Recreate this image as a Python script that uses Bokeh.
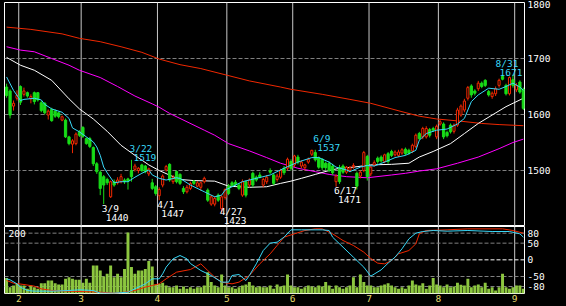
from bokeh.plotting import figure
from bokeh.layouts import column
from bokeh.models import Range1d, FixedTicker, Span, Label, ColumnDataSource
from bokeh.embed import file_html
from bokeh.resources import INLINE

# ---------------- data (trading-day index 0 = 2022-01-26) ----------------
month_starts = [4, 22, 44, 64, 83, 105, 125, 147]
month_labels = ["2", "3", "4", "5", "6", "7", "8", "9"]
price_ticks = [1500, 1600, 1700, 1800]
price_grid = [1500, 1600, 1700]
osc_ticks = [80, 50, 0, -50, -80]
osc_labels = ["80", "50", "0", "-50", "-80"]

opens = [1649,1642,1615,1629,1650,1636,1639,1628,1639,1639,1621,1620,1599,1609,1606,1603,1590,1590,1560,1547,
         1548,1569,1577,1557,1557,1541,1512,1497,1489,1484,1453,1480,1478,1480,1483,1485,1500,1502,1500,1510,
         1508,1494,1478,1471,1455,1474,1501,1511,1480,1498,1493,1468,1462,1468,1481,1472,1470,1480,1465,1440,
         1440,1456,1432,1452,1472,1478,1479,1474,1456,1480,1474,1495,1488,1492,1474,1480,1500,1492,1484,1488,
         1504,1504,1516,1510,1524,1508,1505,1515,1529,1532,1523,1520,1513,1513,1508,1480,1505,1508,1497,1500,
         1507,1495,1490,1500,1525,1494,1510,1522,1524,1516,1530,1534,1528,1527,1531,1538,1536,1535,1543,1566,
         1560,1560,1573,1575,1560,1583,1583,1568,1581,1570,1581,1599,1608,1629,1651,1642,1646,1656,1661,1641,
         1632,1637,1652,1668,1652,1637,1662,1644,1658,1645]
highs = [1655,1645,1625,1643,1652,1648,1641,1636,1641,1640,1624,1622,1609,1612,1609,1605,1598,1593,1562,1556,
         1568,1572,1579,1559,1560,1543,1515,1500,1492,1487,1482,1484,1488,1494,1486,1487,1519,1512,1506,1512,
         1510,1505,1485,1474,1470,1493,1510,1513,1492,1500,1495,1472,1474,1480,1483,1481,1480,1489,1468,1456,
         1454,1459,1456,1468,1476,1481,1483,1477,1484,1482,1486,1498,1491,1497,1487,1492,1504,1494,1494,1503,
         1508,1523,1520,1528,1528,1518,1512,1523,1537,1537,1525,1522,1516,1516,1512,1493,1510,1511,1508,1508,
         1513,1498,1500,1535,1528,1509,1518,1525,1527,1530,1533,1537,1536,1537,1540,1541,1539,1548,1566,1569,
         1578,1579,1576,1578,1582,1590,1586,1571,1584,1584,1612,1618,1628,1651,1654,1645,1660,1659,1663,1644,
         1641,1650,1664,1670,1655,1668,1671,1656,1661,1648]
lows = [1630,1593,1607,1625,1617,1632,1630,1620,1618,1623,1604,1600,1591,1587,1594,1593,1588,1558,1545,1531,
        1545,1560,1558,1546,1540,1508,1494,1456,1440,1474,1451,1471,1475,1477,1476,1466,1480,1498,1495,1497,
        1495,1490,1465,1455,1447,1470,1498,1480,1476,1477,1474,1458,1459,1465,1474,1470,1464,1477,1444,1437,
        1436,1444,1423,1448,1456,1470,1472,1465,1453,1452,1470,1470,1480,1486,1470,1476,1494,1474,1480,1485,
        1492,1500,1500,1506,1511,1504,1500,1512,1526,1516,1503,1501,1501,1497,1492,1471,1476,1494,1494,1497,
        1503,1466,1486,1497,1482,1490,1507,1512,1514,1513,1512,1524,1525,1524,1528,1527,1528,1531,1540,1554,
        1556,1557,1559,1569,1556,1580,1556,1559,1566,1566,1578,1596,1604,1625,1630,1634,1642,1647,1649,1632,
        1628,1633,1648,1661,1634,1634,1648,1640,1637,1608]
closes = [1634,1599,1620,1634,1622,1642,1633,1632,1623,1626,1607,1603,1606,1589,1597,1596,1596,1560,1548,1553,
          1565,1563,1561,1548,1543,1512,1498,1468,1474,1478,1480,1474,1483,1489,1480,1481,1489,1508,1504,1500,
          1498,1503,1468,1459,1466,1490,1507,1483,1487,1480,1477,1462,1470,1477,1477,1478,1478,1486,1447,1453,
          1450,1447,1453,1466,1459,1473,1475,1468,1480,1456,1483,1474,1483,1488,1484,1488,1497,1477,1490,1500,
          1496,1520,1504,1526,1515,1515,1510,1520,1536,1519,1506,1505,1505,1500,1496,1490,1480,1497,1506,1505,
          1509,1472,1497,1532,1489,1506,1514,1516,1517,1528,1516,1527,1533,1533,1537,1530,1531,1545,1563,1557,
          1575,1575,1563,1572,1579,1587,1560,1562,1569,1581,1608,1615,1624,1648,1635,1638,1656,1650,1652,1635,
          1638,1646,1661,1663,1637,1666,1652,1652,1640,1611]
volume = [52,21,27,32,27,27,16,27,21,16, 34,34,43,43,34,30,30,49,54,49,
          46,46,36,49,36,93,93,77,57,66, 93,54,66,54,82,203,88,66,77,77,
          82,108,90,30,32,36,27,21,21,27, 16,23,16,21,16,21,21,27,71,38,
          27,21,63,27,21,21,16,21,27,30, 38,27,21,23,21,21,27,16,30,23,
          27,63,27,21,21,16,21,27,23,21, 27,23,38,27,16,27,21,16,21,27,
          54,21,63,38,27,27,21,21,27,30, 34,27,21,16,21,16,27,43,30,27,
          34,16,27,52,30,27,21,30,21,23, 36,29,27,49,21,27,30,21,36,16,
          21,10,21,66,21,16,21,27,27,16]

ma5_day = [0,2,4,5,8,10,11,13,16,18,19,21,23,25,26,27,28,29,31,33,35,37,39,41,42,44,46,49,50,53,
           57,60,62,63,65,68,72,76,80,84,88,90,93,95,98,99,102,104,106,109,112,115,118,119,121,124,127,130,132,134,
           136,139,142,144,146,148,149]
ma5_val = [1667,1643,1625,1627,1629,1626,1618,1610,1604,1593,1576,1569,1560,1551,1542,1527,1506,1496,1478,1480,
           1480,1488,1495,1501,1492,1486,1483,1487,1486,1474,1462,1453,1456,1465,1471,1480,1486,1492,1504,1515,
           1523,1523,1515,1506,1501,1498,1506,1509,1508,1515,1523,1527,1536,1554,1566,1572,1574,1583,1593,1623,
           1635,1647,1645,1650,1656,1649,1643]
ma25_day = [0,4,8,13,18,21,25,29,33,37,41,44,48,50,54,60,64,70,75,79,82,85,89,93,96,100,105,111,116,119,
            123,128,132,136,140,144,149]
ma25_val = [1702,1688,1679,1661,1628,1610,1592,1570,1545,1527,1510,1500,1489,1484,1482,1481,1472,1470,1471,1477,
            1481,1486,1493,1500,1504,1506,1510,1511,1513,1524,1534,1548,1566,1584,1599,1614,1629]
ma75_day = [0,4,8,13,18,21,27,32,37,42,44,47,50,57,60,64,70,75,79,84,89,93,98,104,111,115,119,124,130,136,
            142,146,149]
ma75_val = [1721,1715,1712,1700,1688,1679,1666,1650,1633,1619,1613,1602,1593,1572,1563,1548,1535,1523,1513,1504,
            1498,1493,1489,1487,1492,1495,1499,1503,1513,1524,1539,1550,1556]
ma200_day = [0,7,16,21,27,33,39,44,50,56,63,70,79,82,91,99,105,114,119,124,131,137,142,149]
ma200_val = [1756,1752,1744,1736,1730,1721,1711,1699,1689,1682,1671,1660,1649,1645,1636,1627,1620,1605,1597,1592,
             1588,1584,1582,1580]

rci_fast_day = [0,1,3,4,6,8,13,18,21,25,27,31,35,37,40,42,44,45,46,48,50,52,53,56,59,62,64,65,67,69,
                70,72,74,76,78,80,82,85,91,93,94,97,100,103,105,108,110,112,114,116,118,120,123,127,133,140,145,148,149]
rci_fast_val = [-57,-60,-72,-82,-92,-94,-94,-92,-90,-92,-100,-100,-97,-87,-72,-57,-57,-42,-22,3,
                13,3,-11,-32,-47,-67,-67,-47,-44,-62,-47,-12,28,50,53,68,90,90,90,88,
                68,38,8,-22,-49,-30,-10,8,33,63,80,85,88,86,88,85,85,78,68]
rci_slow_day = [0,2,5,8,10,13,18,27,31,34,37,40,42,44,46,49,53,56,58,60,62,65,67,70,73,76,78,80,83,86,
                89,91,94,97,100,103,105,107,109,111,113,116,118,119,121,127,133,143,146,149]
rci_slow_val = [-62,-70,-74,-79,-87,-92,-94,-97,-100,-97,-92,-82,-77,-72,-57,-37,-29,-12,-32,-52,
                -67,-72,-67,-47,-12,18,43,68,78,88,93,93,78,58,43,23,4,-10,-12,-2,
                18,28,48,78,88,90,93,93,88,80]

ann_day = [28, 36, 44, 62, 89, 95, 146]
ann_date = ["3/9", "3/22", "4/1", "4/27", "6/9", "6/17", "8/31"]
ann_price = [1440, 1519, 1447, 1423, 1537, 1471, 1671]
ann_high = [False, True, False, False, True, False, True]

# ---------------- style ----------------
FONT = "DejaVu Sans Mono"
FS = "9.5px"
RED = "#F02800"
GREEN = "#18DC18"
VOLC = "#8CC63F"
CYAN = "#38D8F8"
MAG = "#FF00FF"
GRIDC = "#808080"
VLINE = "#C8C8C8"
YEL = "#E6DC6E"

X0, X1 = -0.106, 149.83
Y0, Y1 = 1400, 1800
FRAME_W, FRAME_H = 520, 224
xr = Range1d(X0, X1)

def style_right_axis(ax):
    ax.major_label_text_color = "white"
    ax.major_label_text_font = FONT
    ax.major_label_text_font_size = FS
    ax.axis_line_color = None
    ax.major_tick_line_color = None
    ax.minor_tick_line_color = None
    ax.major_tick_out = 0
    ax.major_tick_in = 0
    ax.major_label_standoff = 3

# ---------------- main price panel ----------------
p1 = figure(width=566, height=226, x_range=xr, y_range=Range1d(Y0, Y1),
            output_backend="svg", toolbar_location=None,
            x_axis_location=None, y_axis_location="right",
            min_border_left=4, min_border_right=42, min_border_top=2, min_border_bottom=0,
            background_fill_color="black", border_fill_color="black",
            outline_line_color="white", outline_line_width=1)
p1.grid.visible = False
style_right_axis(p1.yaxis[0])
p1.yaxis.ticker = FixedTicker(ticks=price_ticks)

for m in month_starts:
    p1.add_layout(Span(location=m, dimension="height", line_color=VLINE, line_width=1, level="underlay"))
for g in price_grid:
    p1.add_layout(Span(location=g, dimension="width", line_color=GRIDC, line_width=1,
                       line_dash="4 2", level="underlay"))

n = len(opens)
up = dict(x=[], h=[], l=[], top=[], bot=[])
dn = dict(x=[], h=[], l=[], top=[], bot=[])
for i in range(n):
    d = up if closes[i] >= opens[i] else dn
    d["x"].append(i + 0.5)
    d["h"].append(highs[i])
    d["l"].append(lows[i])
    d["top"].append(max(opens[i], closes[i]))
    d["bot"].append(min(opens[i], closes[i]))
sup = ColumnDataSource(up)
sdn = ColumnDataSource(dn)

p1.line([d + 0.5 for d in ma200_day], ma200_val, line_color=RED, line_width=1)
p1.line([d + 0.5 for d in ma75_day], ma75_val, line_color=MAG, line_width=1)
p1.line([d + 0.5 for d in ma25_day], ma25_val, line_color="white", line_width=1)

p1.segment(x0="x", y0="l", x1="x", y1="h", source=sup, line_color=RED, line_width=1)
p1.segment(x0="x", y0="l", x1="x", y1="h", source=sdn, line_color=GREEN, line_width=1)
p1.vbar(x="x", width=0.6, top="top", bottom="bot", source=sup,
        fill_color="black", line_color=RED, line_width=1)
p1.vbar(x="x", width=0.65, top="top", bottom="bot", source=sdn,
        fill_color=GREEN, line_color=GREEN, line_width=1)

p1.line([d + 0.5 for d in ma5_day], ma5_val, line_color=CYAN, line_width=1)

# high / low annotations (kept inside the frame so nothing is clipped)
px_per_day = FRAME_W / (X1 - X0)
px_per_price = FRAME_H / (Y1 - Y0)
TEXT_W = 24
for d, t, pr, hi in zip(ann_day, ann_date, ann_price, ann_high):
    col = CYAN if hi else "white"
    dy1, dy2 = (11, 2) if hi else (-4, -13)
    if not hi:
        below = (pr - Y0) * px_per_price   # pixels between the low and the frame bottom
        need = 13 + 6
        if below < need:
            dy1 += need - below
            dy2 += need - below
    sx = (d + 0.5 - X0) * px_per_day
    dx1, dx2 = -2, 2
    over = sx + dx2 + TEXT_W - (FRAME_W - 1)
    if over > 0:
        dx1 -= over
        dx2 -= over
    p1.add_layout(Label(x=d + 0.5, y=pr, x_offset=dx1, y_offset=dy1, text=t,
                        text_color=col, text_font=FONT, text_font_size=FS,
                        text_baseline="middle", text_align="left"))
    p1.add_layout(Label(x=d + 0.5, y=pr, x_offset=dx2, y_offset=dy2, text=str(pr),
                        text_color=col, text_font=FONT, text_font_size=FS,
                        text_baseline="middle", text_align="left"))

# ---------------- lower panel: volume + RCI ----------------
p2 = figure(width=566, height=80, x_range=xr, y_range=Range1d(-101, 100),
            output_backend="svg", toolbar_location=None,
            x_axis_location="below", y_axis_location="right",
            min_border_left=4, min_border_right=42, min_border_top=0, min_border_bottom=13,
            background_fill_color="black", border_fill_color="black",
            outline_line_color="white", outline_line_width=1)
p2.grid.visible = False
p2.extra_y_ranges = {"vol": Range1d(0, 223.3)}
style_right_axis(p2.yaxis[0])
p2.yaxis.ticker = FixedTicker(ticks=osc_ticks)
p2.yaxis.major_label_overrides = {t: s for t, s in zip(osc_ticks, osc_labels)}

xa = p2.xaxis[0]
xa.ticker = FixedTicker(ticks=month_starts)
xa.major_label_overrides = {m: s for m, s in zip(month_starts, month_labels)}
xa.major_label_text_color = YEL
xa.major_label_text_font = FONT
xa.major_label_text_font_size = FS
xa.axis_line_color = None
xa.major_tick_line_color = None
xa.minor_tick_line_color = None
xa.major_tick_out = 0
xa.major_tick_in = 0
xa.major_label_standoff = 1

for m in month_starts:
    p2.add_layout(Span(location=m, dimension="height", line_color=VLINE, line_width=1, level="underlay"))
for t in osc_ticks:
    p2.add_layout(Span(location=t, dimension="width", line_color=("white" if t == 0 else GRIDC),
                       line_width=1, line_dash="4 2", level="underlay"))

p2.vbar(x=[i + 0.5 for i in range(n)], top=volume, width=0.85, bottom=0,
        y_range_name="vol", fill_color=VOLC, line_color=None)
p2.line([d + 0.5 for d in rci_slow_day], rci_slow_val, line_color=RED, line_width=1)
p2.line([d + 0.5 for d in rci_fast_day], rci_fast_val, line_color=CYAN, line_width=1)

p2.add_layout(Label(x=X0, y=200, y_range_name="vol", x_offset=4, text="200",
                    text_color="white", text_font=FONT, text_font_size=FS,
                    text_baseline="middle", text_align="left"))

layout = column(p1, p2, spacing=0)
layout.background = "black"

open("out.html", "w").write(file_html(layout, INLINE))
